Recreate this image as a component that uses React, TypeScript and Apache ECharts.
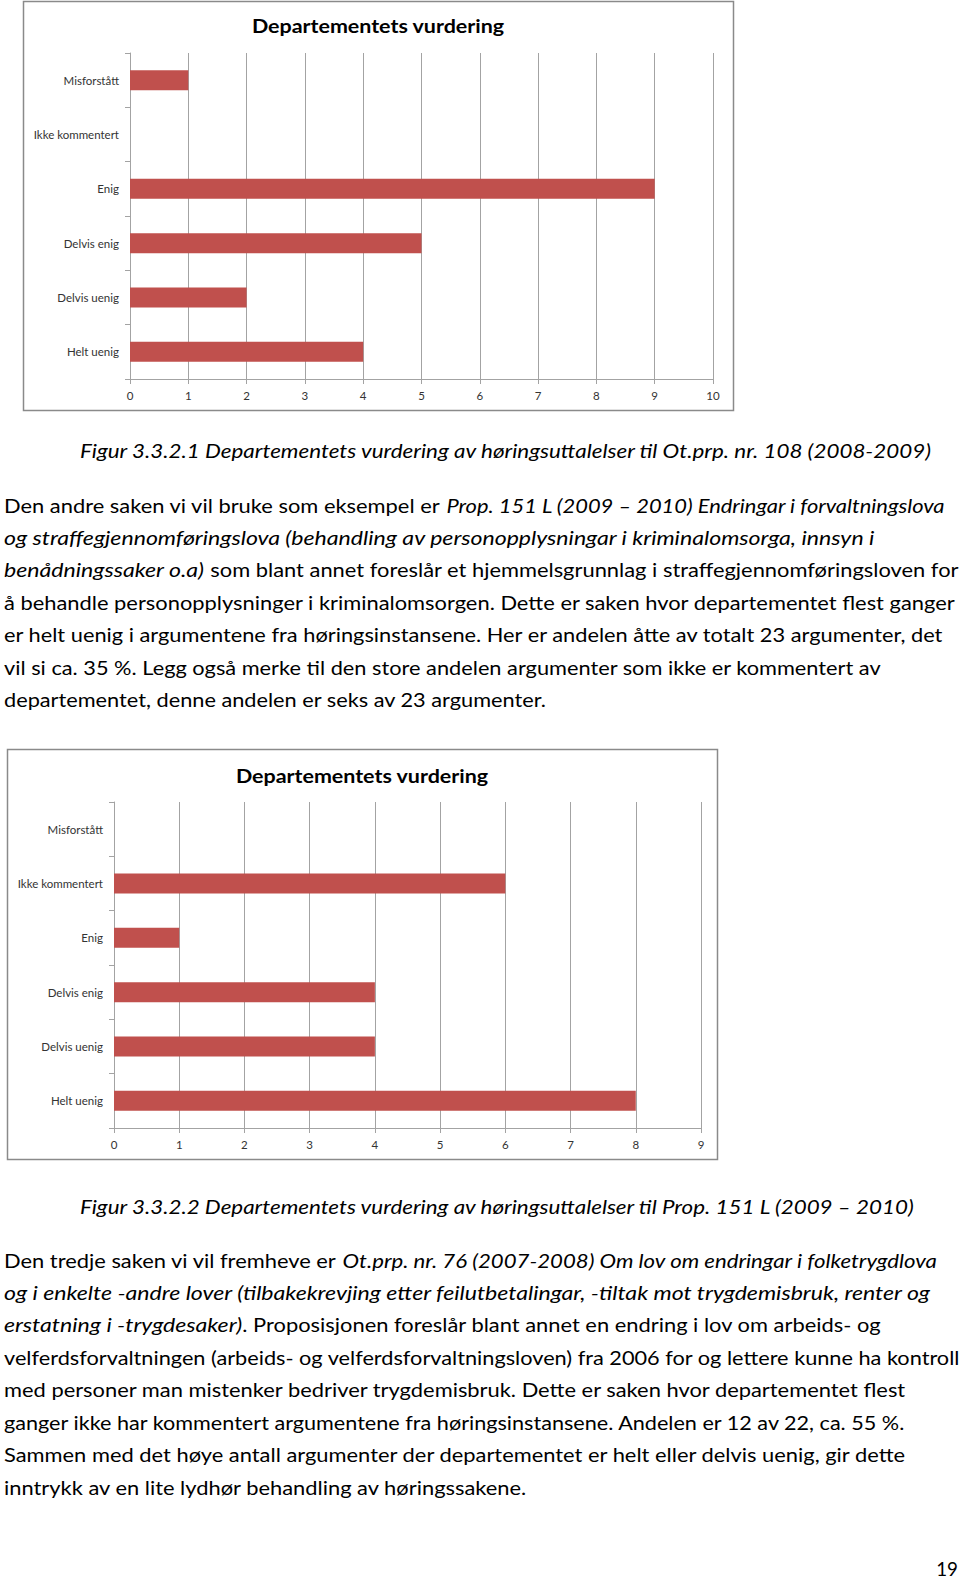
import React, { useEffect, useRef } from "react";
import * as echarts from "echarts";

// ---------- data ----------
const categories = ["Misforstått", "Ikke kommentert", "Enig", "Delvis enig", "Delvis uenig", "Helt uenig"];
const valuesFig1 = [1, 0, 9, 5, 2, 4];
const valuesFig2 = [0, 6, 1, 4, 4, 8];
const axisMax1 = 10;
const axisMax2 = 9;
const chartTitle = "Departementets vurdering";
const caption1 = "Figur 3.3.2.1 Departementets vurdering av høringsuttalelser til Ot.prp. nr. 108 (2008-2009)";
const caption2 = "Figur 3.3.2.2 Departementets vurdering av høringsuttalelser til Prop. 151 L (2009 – 2010)";
// each line: list of [italic, text]
const paragraph1: [boolean, string][][] = [
  [[false, "Den andre saken vi vil bruke som eksempel er "], [true, "Prop. 151 L (2009 – 2010) Endringar i forvaltningslova"]],
  [[true, "og straffegjennomføringslova (behandling av personopplysningar i kriminalomsorga, innsyn i"]],
  [[true, "benådningssaker o.a)"], [false, " som blant annet foreslår et hjemmelsgrunnlag i straffegjennomføringsloven for"]],
  [[false, "å behandle personopplysninger i kriminalomsorgen. Dette er saken hvor departementet flest ganger"]],
  [[false, "er helt uenig i argumentene fra høringsinstansene. Her er andelen åtte av totalt 23 argumenter, det"]],
  [[false, "vil si ca. 35 %. Legg også merke til den store andelen argumenter som ikke er kommentert av"]],
  [[false, "departementet, denne andelen er seks av 23 argumenter."]],
];
const paragraph2: [boolean, string][][] = [
  [[false, "Den tredje saken vi vil fremheve er "], [true, "Ot.prp. nr. 76 (2007-2008) Om lov om endringar i folketrygdlova"]],
  [[true, "og i enkelte -andre lover (tilbakekrevjing etter feilutbetalingar, -tiltak mot trygdemisbruk, renter og"]],
  [[true, "erstatning i -trygdesaker)"], [false, ". Proposisjonen foreslår blant annet en endring i lov om arbeids- og"]],
  [[false, "velferdsforvaltningen (arbeids- og velferdsforvaltningsloven) fra 2006 for og lettere kunne ha kontroll"]],
  [[false, "med personer man mistenker bedriver trygdemisbruk. Dette er saken hvor departementet flest"]],
  [[false, "ganger ikke har kommentert argumentene fra høringsinstansene. Andelen er 12 av 22, ca. 55 %."]],
  [[false, "Sammen med det høye antall argumenter der departementet er helt eller delvis uenig, gir dette"]],
  [[false, "inntrykk av en lite lydhør behandling av høringssakene."]],
];
const pageNumber = "19";

// ---------- styles ----------
const FAMILY = "Lato";
const FONT = "Lato, 'Open Sans', sans-serif";
const BODY_SIZE = 19.5;
const SCALE_NORMAL = 1.122;
const SCALE_ITALIC = 1.185;
const CAPTION_EXTRA = 1.013;
const DIGIT_WIDTH = 10.9; // target advance of a digit in the page's font
const BAR_COLOR = "#C0504D";
const GRID_COLOR = "#a3a3a3";
const LABEL_COLOR = "#333333";

function makeAxes(gridIndex: number, max: number) {
  const x = {
    type: "value",
    gridIndex,
    min: 0,
    max,
    interval: 1,
    axisLine: { show: true, lineStyle: { color: GRID_COLOR, width: 1 } },
    axisTick: { show: true, length: 5, lineStyle: { color: GRID_COLOR } },
    axisLabel: { fontFamily: FONT, fontSize: 11.5, color: LABEL_COLOR, margin: 10 },
    splitLine: { show: true, lineStyle: { color: GRID_COLOR, width: 1 } },
  };
  const y = {
    type: "category",
    gridIndex,
    data: categories,
    inverse: true,
    axisLine: { show: true, lineStyle: { color: GRID_COLOR, width: 1 } },
    axisTick: { show: true, length: 5, lineStyle: { color: GRID_COLOR } },
    axisLabel: { fontFamily: FONT, fontSize: 11.5, color: LABEL_COLOR, margin: 11 },
    splitLine: { show: false },
  };
  return { x, y };
}

export default function App() {
  const ref = useRef<HTMLDivElement>(null);
  useEffect(() => {
    if (!ref.current) return;
    const chart = echarts.init(ref.current, null, { renderer: "svg" });
    const a1 = makeAxes(0, axisMax1);
    const a2 = makeAxes(1, axisMax2);

    const ctx = document.createElement("canvas").getContext("2d")!;
    const measure = (t: string, italic: boolean) => {
      ctx.font = `${italic ? "italic " : ""}${BODY_SIZE}px ${FAMILY}`;
      return ctx.measureText(t).width;
    };
    // horizontal scale for a run so that its width follows the page's font metrics
    const fitScale = (t: string, italic: boolean, extra: number) => {
      const natural = measure(t, italic);
      const digits = (t.match(/[0-9]/g) || []).length;
      const rest = t.replace(/[0-9]/g, "");
      const target = (measure(rest, italic) * (italic ? SCALE_ITALIC : SCALE_NORMAL) + digits * DIGIT_WIDTH) * extra;
      return { scale: natural > 0 ? target / natural : 1, width: target };
    };

    const graphics: any[] = [];
    // chart frames
    graphics.push({
      type: "rect",
      z: -1,
      shape: { x: 23.5, y: 1.5, width: 710, height: 409 },
      style: { fill: "#fff", stroke: "#8a8a8a", lineWidth: 1.5 },
    });
    graphics.push({
      type: "rect",
      z: -1,
      shape: { x: 7.5, y: 749.5, width: 710, height: 410 },
      style: { fill: "#fff", stroke: "#8a8a8a", lineWidth: 1.5 },
    });
    // chart titles
    const titleAt = (x: number, y: number) => ({
      type: "text",
      x,
      y,
      scaleX: 1.1,
      style: { text: chartTitle, fontFamily: FONT, fontSize: 19.5, fontWeight: "bold", fill: "#000", align: "center", verticalAlign: "middle" },
    });
    graphics.push(titleAt(378, 25));
    graphics.push(titleAt(362, 775));

    const run = (t: string, italic: boolean, x: number, y: number, extra = 1) => {
      const f = fitScale(t, italic, extra);
      graphics.push({
        type: "text",
        x,
        y,
        scaleX: f.scale,
        style: {
          text: t,
          fontFamily: FONT,
          fontSize: BODY_SIZE,
          fontStyle: italic ? "italic" : "normal",
          fill: "#000",
          align: "left",
          verticalAlign: "middle",
        },
      });
      return f.width;
    };

    // captions
    run(caption1, true, 80, 450, CAPTION_EXTRA);
    run(caption2, true, 80, 1206, CAPTION_EXTRA);

    // paragraphs
    const lh = 32.45;
    const addParagraph = (lines: [boolean, string][][], y0: number) => {
      lines.forEach((segs, i) => {
        let x = 4;
        const y = y0 + i * lh;
        segs.forEach(([it, t]) => {
          x += run(t, it, x, y);
        });
      });
    };
    addParagraph(paragraph1, 505);
    addParagraph(paragraph2, 1260);

    graphics.push({
      type: "text",
      x: 958,
      y: 1568,
      scaleX: DIGIT_WIDTH / measure("1", false),
      style: { text: pageNumber, fontFamily: FONT, fontSize: BODY_SIZE, fill: "#000", align: "right", verticalAlign: "middle" },
    });

    chart.setOption({
      animation: false,
      backgroundColor: "#ffffff",
      grid: [
        { left: 130, top: 53, width: 583, height: 326, containLabel: false },
        { left: 114, top: 802, width: 587, height: 326, containLabel: false },
      ],
      xAxis: [a1.x, a2.x],
      yAxis: [a1.y, a2.y],
      series: [
        { type: "bar", xAxisIndex: 0, yAxisIndex: 0, data: valuesFig1, barWidth: 20, itemStyle: { color: BAR_COLOR }, z: 3 },
        { type: "bar", xAxisIndex: 1, yAxisIndex: 1, data: valuesFig2, barWidth: 20, itemStyle: { color: BAR_COLOR }, z: 3 },
      ],
      graphic: graphics,
    });
    return () => chart.dispose();
  }, []);
  return <div ref={ref} style={{ position: "absolute", left: 0, top: 0, width: 960, height: 1580 }} />;
}
